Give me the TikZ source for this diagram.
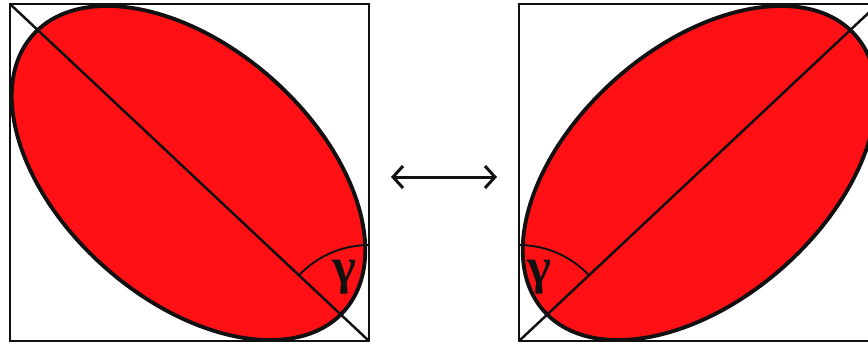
\documentclass[tikz,border=0pt]{standalone}
\usepackage{fontspec}
\newfontfamily\greekfont{Liberation Serif}
\usetikzlibrary{arrows.meta}
\definecolor{eggred}{HTML}{FF1014}
\definecolor{inkline}{HTML}{111111}
\tikzset{
  boxframe/.style={draw=inkline, line width=1.6pt},
  egg/.style={draw=inkline, fill=eggred, line width=2.2pt},
  diag/.style={draw=inkline, line width=1.4pt},
  anglearc/.style={draw=inkline, line width=1.1pt},
  anglelbl/.style={font=\greekfont\bfseries\fontsize{29}{29}\selectfont, text=inkline, inner sep=0pt},
  swapflow/.style={{Straight Barb[length=2mm, width=4.4mm]}-{Straight Barb[length=2mm, width=4.4mm]}, draw=inkline, line width=1.7pt}
}

\begin{document}
\begin{tikzpicture}[x=0.02cm, y=-0.02cm]
\useasboundingbox (0,0) rectangle (868,343);
\clip (0,0) rectangle (868,343);
\foreach \s/\sx/\ox/\gx in {L/1/0/344, R/-1/888/349} {
  \begin{scope}[xshift=\ox*0.02cm, xscale=\sx]
    \coordinate (\s tl) at (10,4);
    \coordinate (\s br) at (369,341);
    \coordinate (\s mid) at (188.5,173);
    \draw[boxframe] (\s tl) rectangle (\s br);
    \draw[egg, rotate around={-41.5:(\s mid)}] (\s mid) ellipse[x radius=208, y radius=126];
    \draw[diag] (\s tl) -- (\s br);
    \draw[anglearc] (\s br) ++(270:96) arc[start angle=270, end angle=223.2, radius=96];
    \node[anglelbl] (\s gam) at (\gx,277) {γ};
  \end{scope}
}
\coordinate (swapL) at (391,177);
\coordinate (swapR) at (497,177);
\draw[swapflow] (swapL) -- (swapR);
\end{tikzpicture}
\end{document}
